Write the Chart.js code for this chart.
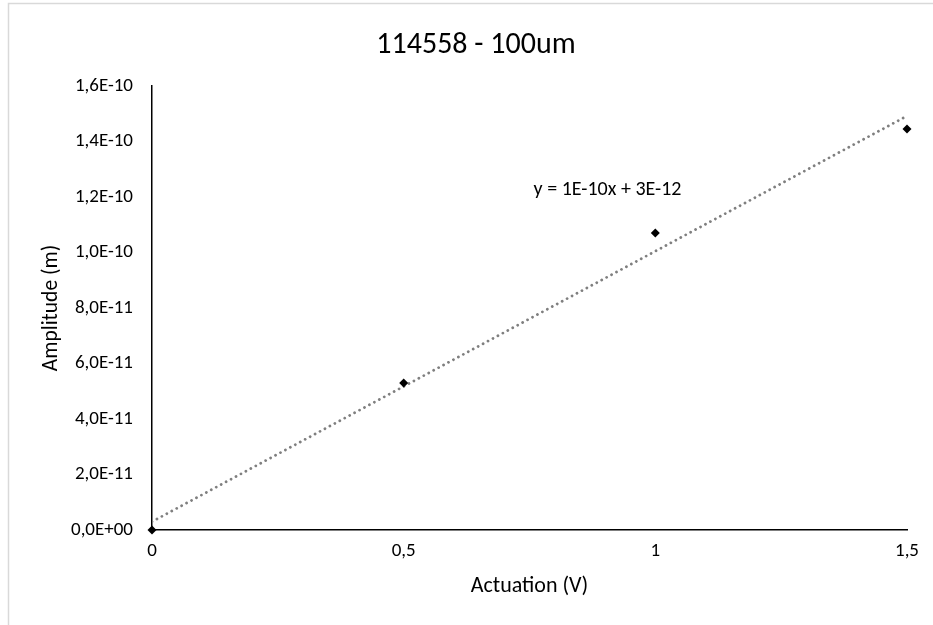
<!DOCTYPE html>
<html>
<head>
<meta charset="utf-8">
<script src="https://cdn.jsdelivr.net/npm/chart.js@4.4.0/dist/chart.umd.min.js"></script>
<style>
  body { margin: 0; background: #fff; }
  canvas { display: block; }
</style>
</head>
<body>
<canvas id="chartAmp" width="933" height="625"></canvas>
<script>
const chartTitle = "114558 - 100um";
const xTitle = "Actuation (V)";
const yTitle = "Amplitude (m)";

// measured points
const actuation = [0, 0.5, 1, 1.5];
const amplitude = [0, 5.3e-11, 1.07e-10, 1.445e-10];

// linear trendline as it appears in the picture
const trendX = [0, 1.5];
const trendY = [3.0e-12, 1.492e-10];
const trendLabel = "y = 1E-10x + 3E-12";
const trendLabelAt = [0.905, 1.225e-10];

const FONT = "Calibri, Carlito, Lato, sans-serif";

const fmtExp = (v) => {
  let s = Number(v).toExponential(1).toUpperCase().replace(".", ",");
  return s.replace(/E([+-])(\d)$/, "E$10$2");
};

const extras = {
  id: "extras",
  beforeDraw(chart) {
    const ctx = chart.ctx;
    ctx.save();
    ctx.strokeStyle = "#d9d9d9";
    ctx.lineWidth = 1.5;
    ctx.beginPath();
    ctx.moveTo(8.5, chart.height);
    ctx.lineTo(8.5, 3.5);
    ctx.lineTo(chart.width, 3.5);
    ctx.stroke();
    ctx.restore();
  },
  afterDraw(chart) {
    const ctx = chart.ctx;
    ctx.save();
    ctx.fillStyle = "#000";
    ctx.textAlign = "center";
    ctx.textBaseline = "middle";
    ctx.font = "30px " + FONT;
    ctx.fillText(chartTitle, 476, 45);
    const xs = chart.scales.x, ys = chart.scales.y;
    ctx.font = "20px " + FONT;
    ctx.fillText(trendLabel, xs.getPixelForValue(trendLabelAt[0]), ys.getPixelForValue(trendLabelAt[1]));
    ctx.restore();
  },
};

const ctx = document.getElementById("chartAmp").getContext("2d");
const chart = new Chart(ctx, {
  type: "scatter",
  data: {
    datasets: [
      {
        label: "trend",
        data: trendX.map((x, i) => ({ x: x, y: trendY[i] })),
        showLine: true,
        borderColor: "#7f7f7f",
        borderWidth: 2.8,
        borderDash: [0.01, 5.6],
        borderCapStyle: "round",
        pointRadius: 0,
        order: 2,
      },
      {
        label: "Amplitude",
        data: actuation.map((x, i) => ({ x: x, y: amplitude[i] })),
        pointStyle: "rectRot",
        pointRadius: 4.5,
        backgroundColor: "#000",
        borderColor: "#000",
        borderWidth: 0,
        clip: false,
        order: 1,
      },
    ],
  },
  options: {
    responsive: false,
    animation: false,
    devicePixelRatio: 1,
    layout: { padding: { left: 0, right: 26, top: 86, bottom: 0 } },
    plugins: {
      legend: { display: false },
      tooltip: { enabled: false },
    },
    scales: {
      x: {
        type: "linear",
        min: 0,
        max: 1.5,
        grid: { display: false, drawTicks: false },
        border: { display: true, color: "#000", width: 1.5 },
        ticks: {
          stepSize: 0.5,
          padding: 9.5,
          color: "#000",
          font: { family: FONT, size: 19 },
          callback: (v) => String(v).replace(".", ","),
        },
        title: {
          display: true,
          text: xTitle,
          color: "#000",
          font: { family: FONT, size: 22 },
          padding: { top: 0, bottom: 25 },
        },
        afterFit: (scale) => { scale.height = 95; },
      },
      y: {
        type: "linear",
        min: 0,
        max: 1.6e-10,
        grid: { display: false, drawTicks: false },
        border: { display: true, color: "#000", width: 1.5 },
        ticks: {
          stepSize: 2e-11,
          padding: 19,
          color: "#000",
          font: { family: FONT, size: 19 },
          callback: (v) => fmtExp(v),
        },
        title: {
          display: true,
          text: yTitle,
          color: "#000",
          font: { family: FONT, size: 21.5 },
          padding: { top: 39, bottom: 0 },
        },
        afterFit: (scale) => { scale.width = 152; },
      },
    },
  },
  plugins: [extras],
});
</script>
</body>
</html>
